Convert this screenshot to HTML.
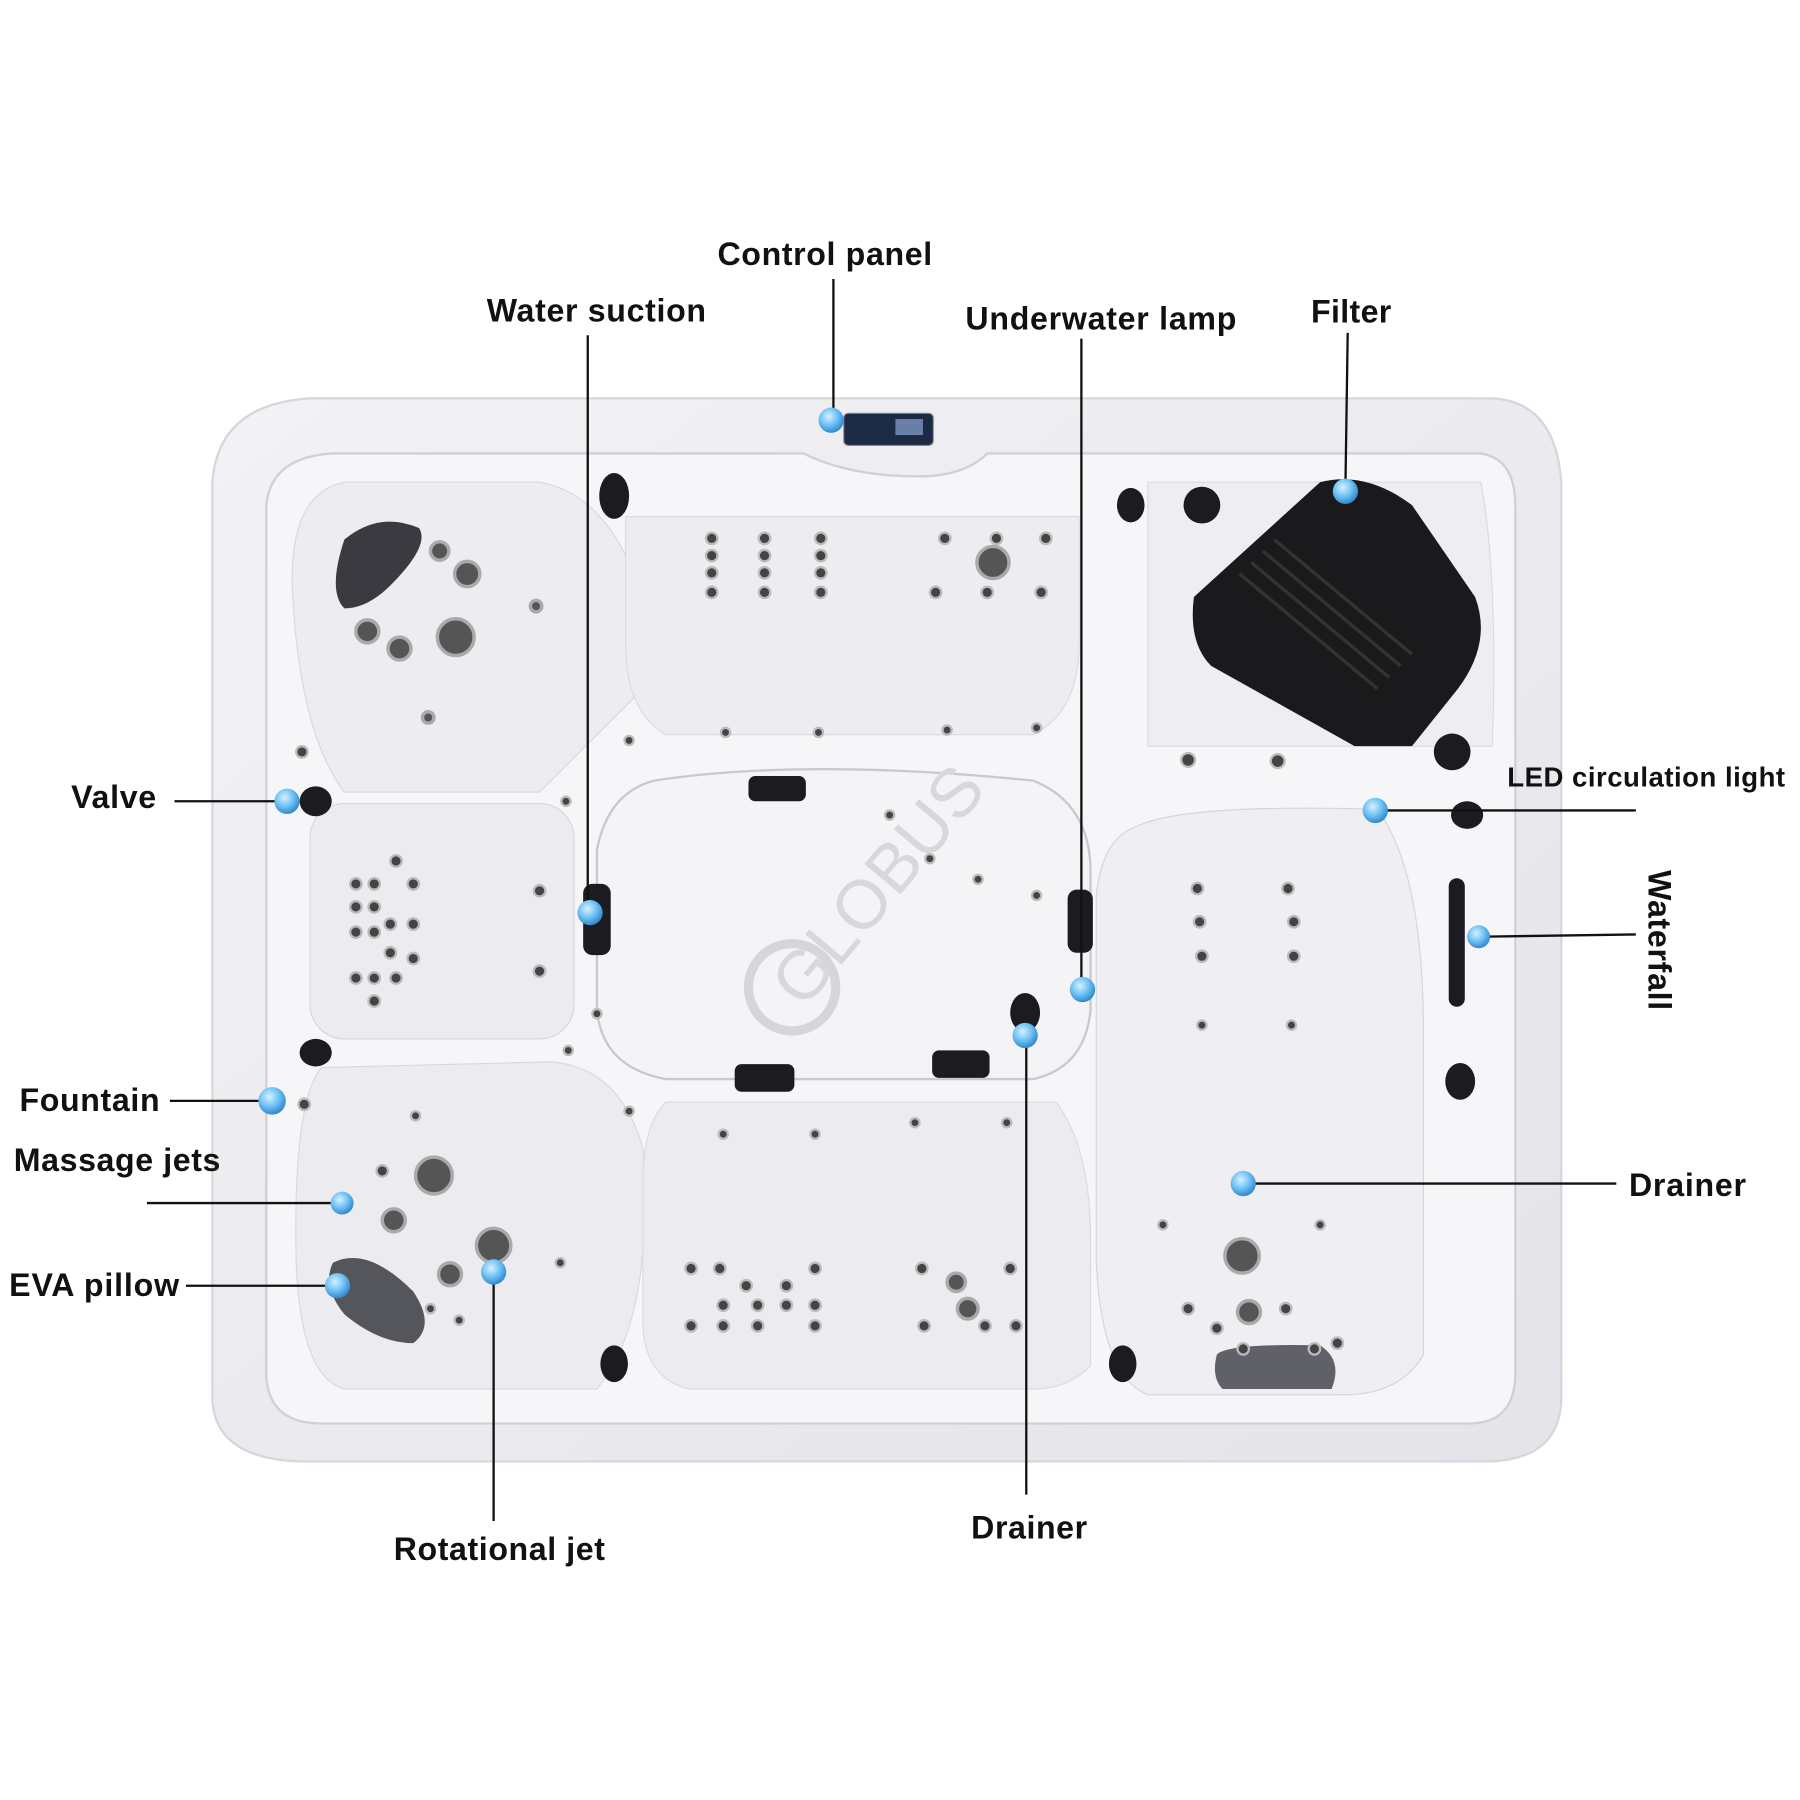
<!DOCTYPE html>
<html><head><meta charset="utf-8"><style>
html,body{margin:0;padding:0;background:#fff;width:1800px;height:1800px;overflow:hidden}
svg text{font-family:"Liberation Sans",Arial,sans-serif;font-weight:bold;fill:#111}
</style></head><body>
<svg width="1800" height="1800" viewBox="0 0 1568 1568" xmlns="http://www.w3.org/2000/svg">
<defs>
<radialGradient id="dot" cx="0.4" cy="0.35" r="0.7"><stop offset="0" stop-color="#d8f0ff"/><stop offset="0.5" stop-color="#6fc3f5"/><stop offset="1" stop-color="#2a7fc8"/></radialGradient>
<linearGradient id="shell" x1="0" y1="0" x2="1" y2="1"><stop offset="0" stop-color="#f2f2f5"/><stop offset="1" stop-color="#e4e4e9"/></linearGradient>
</defs>
<path d="M270 347 H1300 Q1355 350 1360 420 V1220 Q1358 1270 1300 1273 H260 Q188 1270 185 1220 V420 Q190 352 270 347Z" fill="url(#shell)" stroke="#d6d6dc" stroke-width="2"/>
<path d="M290 395 H700 Q740 415 800 415 Q840 415 860 395 H1290 Q1320 400 1320 440 V1200 Q1318 1240 1280 1240 H280 Q235 1240 232 1200 V440 Q236 398 290 395Z" fill="#f6f6f8" stroke="#d0d0d6" stroke-width="2"/>
<path d="M300 420 Q250 430 255 520 Q262 640 300 690 H470 Q520 640 560 600 V520 Q530 430 470 420Z" fill="#ededf1" stroke="#d8d8de"/>
<rect x="270" y="700" width="230" height="205" rx="30" fill="#ececf0" stroke="#d6d6dc"/>
<path d="M280 930 Q255 960 258 1100 Q262 1200 300 1210 H520 Q570 1150 560 1000 Q540 930 480 925Z" fill="#ececf0" stroke="#d8d8de"/>
<path d="M545 450 H940 V560 Q940 620 900 640 H580 Q545 620 545 560Z" fill="#ededf1" stroke="#dadae0"/>
<path d="M580 960 H920 Q950 1000 950 1080 V1190 Q930 1210 900 1210 H600 Q560 1200 560 1150 V1030 Q560 980 580 960Z" fill="#ececf0" stroke="#dadae0"/>
<path d="M1000 420 H1290 Q1305 500 1300 650 H1000Z" fill="#eeeef2" stroke="#dadae0"/>
<path d="M990 720 Q1030 700 1200 705 Q1240 760 1240 900 V1180 Q1220 1215 1170 1215 H1000 Q960 1200 955 1100 V780 Q960 730 990 720Z" fill="#efeff3" stroke="#d4d4da"/>
<path d="M570 680 Q700 660 900 680 Q950 700 950 760 V880 Q945 930 900 940 H580 Q525 930 520 880 V740 Q530 690 570 680Z" fill="#f4f4f6" stroke="#c8c8d0" stroke-width="2"/>
<path d="M300 470 Q330 445 365 460 Q375 475 340 510 Q320 530 300 530 Q285 515 300 470Z" fill="#3a3a40"/>
<path d="M290 1100 Q320 1085 360 1125 Q380 1155 360 1170 Q330 1170 300 1145 Q280 1120 290 1100Z" fill="#55565c"/>
<path d="M1060 1180 Q1070 1170 1150 1172 Q1170 1185 1160 1210 H1065 Q1055 1200 1060 1180Z" fill="#606168"/>
<path d="M1040 520 L1150 420 Q1190 410 1230 440 L1285 520 Q1300 560 1270 600 L1230 650 H1180 L1055 580 Q1035 560 1040 520Z" fill="#1a1a1c"/>
<g stroke="#333" stroke-width="3"><line x1="1080" y1="500" x2="1200" y2="600"/><line x1="1090" y1="490" x2="1210" y2="590"/><line x1="1100" y1="480" x2="1220" y2="580"/><line x1="1110" y1="470" x2="1230" y2="570"/></g>
<rect x="735" y="360" width="78" height="28" rx="4" fill="#1c2a44" stroke="#888"/><rect x="780" y="365" width="24" height="14" fill="#6a7fa8"/>
<g fill="#1c1c20">
<ellipse cx="535" cy="432" rx="13" ry="20"/><ellipse cx="985" cy="440" rx="12" ry="15"/><circle cx="1047" cy="440" r="16"/>
<circle cx="1265" cy="655" r="16"/><ellipse cx="275" cy="698" rx="14" ry="13"/><ellipse cx="1278" cy="710" rx="14" ry="12"/>
<rect x="1262" y="765" width="14" height="112" rx="7"/><ellipse cx="275" cy="917" rx="14" ry="12"/><ellipse cx="1272" cy="942" rx="13" ry="16"/>
<rect x="652" y="676" width="50" height="22" rx="6"/><rect x="508" y="770" width="24" height="62" rx="8"/><rect x="930" y="775" width="22" height="55" rx="8"/>
<rect x="640" y="927" width="52" height="24" rx="6"/><rect x="812" y="915" width="50" height="24" rx="6"/><ellipse cx="893" cy="882" rx="13" ry="17"/>
<ellipse cx="535" cy="1188" rx="12" ry="16"/><ellipse cx="978" cy="1188" rx="12" ry="16"/>
</g>
<g fill="#555" stroke="#aaa" stroke-width="3">
<circle cx="383" cy="480" r="8"/><circle cx="407" cy="500" r="11"/><circle cx="320" cy="550" r="10"/><circle cx="348" cy="565" r="10"/><circle cx="397" cy="555" r="16"/><circle cx="467" cy="528" r="5"/><circle cx="373" cy="625" r="5"/>
<circle cx="378" cy="1024" r="16"/><circle cx="343" cy="1063" r="10"/><circle cx="430" cy="1085" r="15"/><circle cx="392" cy="1110" r="10"/><circle cx="1082" cy="1094" r="15"/><circle cx="1088" cy="1143" r="10"/><circle cx="865" cy="490" r="14"/>
<circle cx="833" cy="1117" r="8"/><circle cx="843" cy="1140" r="9"/>
</g>
<g fill="#444" stroke="#bbb" stroke-width="2">
<circle cx="620" cy="469" r="5"/><circle cx="666" cy="469" r="5"/><circle cx="715" cy="469" r="5"/><circle cx="620" cy="484" r="5"/><circle cx="666" cy="484" r="5"/><circle cx="715" cy="484" r="5"/><circle cx="620" cy="499" r="5"/><circle cx="666" cy="499" r="5"/><circle cx="715" cy="499" r="5"/><circle cx="620" cy="516" r="5"/><circle cx="666" cy="516" r="5"/><circle cx="715" cy="516" r="5"/>
<circle cx="823" cy="469" r="5"/><circle cx="868" cy="469" r="5"/><circle cx="911" cy="469" r="5"/><circle cx="815" cy="516" r="5"/><circle cx="860" cy="516" r="5"/><circle cx="907" cy="516" r="5"/>
<circle cx="310" cy="770" r="5"/><circle cx="326" cy="770" r="5"/><circle cx="345" cy="750" r="5"/><circle cx="360" cy="770" r="5"/><circle cx="310" cy="790" r="5"/><circle cx="326" cy="790" r="5"/><circle cx="340" cy="805" r="5"/><circle cx="310" cy="812" r="5"/><circle cx="326" cy="812" r="5"/><circle cx="360" cy="805" r="5"/><circle cx="340" cy="830" r="5"/><circle cx="310" cy="852" r="5"/><circle cx="326" cy="852" r="5"/><circle cx="345" cy="852" r="5"/><circle cx="360" cy="835" r="5"/><circle cx="326" cy="872" r="5"/>
<circle cx="470" cy="776" r="5"/><circle cx="470" cy="846" r="5"/><circle cx="548" cy="645" r="4"/><circle cx="632" cy="638" r="4"/><circle cx="713" cy="638" r="4"/><circle cx="825" cy="636" r="4"/><circle cx="903" cy="634" r="4"/>
<circle cx="263" cy="655" r="5"/><circle cx="265" cy="962" r="5"/><circle cx="493" cy="698" r="4"/><circle cx="775" cy="710" r="4"/><circle cx="810" cy="748" r="4"/><circle cx="852" cy="766" r="4"/><circle cx="903" cy="780" r="4"/>
<circle cx="1043" cy="774" r="5"/><circle cx="1122" cy="774" r="5"/><circle cx="1045" cy="803" r="5"/><circle cx="1127" cy="803" r="5"/><circle cx="1047" cy="833" r="5"/><circle cx="1127" cy="833" r="5"/>
<circle cx="1035" cy="662" r="6"/><circle cx="1113" cy="663" r="6"/><circle cx="1047" cy="893" r="4"/><circle cx="1125" cy="893" r="4"/>
<circle cx="548" cy="968" r="4"/><circle cx="630" cy="988" r="4"/><circle cx="710" cy="988" r="4"/><circle cx="797" cy="978" r="4"/><circle cx="877" cy="978" r="4"/><circle cx="495" cy="915" r="4"/><circle cx="520" cy="883" r="4"/>
<circle cx="602" cy="1105" r="5"/><circle cx="627" cy="1105" r="5"/><circle cx="650" cy="1120" r="5"/><circle cx="685" cy="1120" r="5"/><circle cx="710" cy="1105" r="5"/><circle cx="630" cy="1137" r="5"/><circle cx="660" cy="1137" r="5"/><circle cx="685" cy="1137" r="5"/><circle cx="710" cy="1137" r="5"/><circle cx="602" cy="1155" r="5"/><circle cx="630" cy="1155" r="5"/><circle cx="660" cy="1155" r="5"/><circle cx="710" cy="1155" r="5"/>
<circle cx="803" cy="1105" r="5"/><circle cx="880" cy="1105" r="5"/><circle cx="805" cy="1155" r="5"/><circle cx="858" cy="1155" r="5"/><circle cx="885" cy="1155" r="5"/>
<circle cx="362" cy="972" r="4"/><circle cx="333" cy="1020" r="5"/><circle cx="488" cy="1100" r="4"/><circle cx="400" cy="1150" r="4"/><circle cx="375" cy="1140" r="4"/>
<circle cx="1013" cy="1067" r="4"/><circle cx="1150" cy="1067" r="4"/><circle cx="1035" cy="1140" r="5"/><circle cx="1060" cy="1157" r="5"/><circle cx="1120" cy="1140" r="5"/><circle cx="1145" cy="1175" r="5"/><circle cx="1165" cy="1170" r="5"/><circle cx="1083" cy="1175" r="5"/>
</g>
<text x="0" y="0" transform="translate(700,880) rotate(-50)" style="font-size:60px;fill:#d8d8dc;font-weight:normal">GLOBUS</text>
<circle cx="690" cy="860" r="38" fill="none" stroke="#d6d6da" stroke-width="8"/>
<g stroke="#111" stroke-width="2" fill="none">
<line x1="726" y1="243" x2="726" y2="362"/>
<line x1="512" y1="292" x2="512" y2="792"/>
<line x1="942" y1="295" x2="942" y2="862"/>
<line x1="1174" y1="290" x2="1172" y2="425"/>
<line x1="152" y1="698" x2="250" y2="698"/>
<line x1="1200" y1="706" x2="1425" y2="706"/>
<line x1="1288" y1="816" x2="1425" y2="814"/>
<line x1="148" y1="959" x2="238" y2="959"/>
<line x1="128" y1="1048" x2="298" y2="1048"/>
<line x1="162" y1="1120" x2="292" y2="1120"/>
<line x1="430" y1="1110" x2="430" y2="1325"/>
<line x1="894" y1="902" x2="894" y2="1302"/>
<line x1="1084" y1="1031" x2="1408" y2="1031"/>
</g>
<g fill="url(#dot)">
<circle cx="724" cy="366" r="11"/><circle cx="1172" cy="428" r="11"/><circle cx="250" cy="698" r="11"/><circle cx="1198" cy="706" r="11"/>
<circle cx="514" cy="795" r="11"/><circle cx="1288" cy="816" r="10"/><circle cx="943" cy="862" r="11"/><circle cx="893" cy="902" r="11"/>
<circle cx="237" cy="959" r="12"/><circle cx="298" cy="1048" r="10"/><circle cx="294" cy="1120" r="11"/><circle cx="430" cy="1108" r="11"/><circle cx="1083" cy="1031" r="11"/>
</g>
<g style="font-size:28px">
<text x="625" y="231" textLength="187">Control panel</text>
<text x="424" y="280" textLength="191">Water suction</text>
<text x="841" y="287" textLength="236">Underwater lamp</text>
<text x="1142" y="281" textLength="70">Filter</text>
<text x="62" y="704" textLength="74">Valve</text>
<text x="1313" y="685" style="font-size:24px" textLength="242">LED circulation light</text>
<text x="17" y="968" textLength="122">Fountain</text>
<text x="12" y="1020" textLength="180">Massage jets</text>
<text x="8" y="1129" textLength="148">EVA pillow</text>
<text x="1419" y="1042" textLength="102">Drainer</text>
<text x="846" y="1340" textLength="101">Drainer</text>
<text x="343" y="1359" textLength="184">Rotational jet</text>
<text transform="translate(1436,758) rotate(90)" textLength="122">Waterfall</text>
</g>
</svg>
</body></html>
